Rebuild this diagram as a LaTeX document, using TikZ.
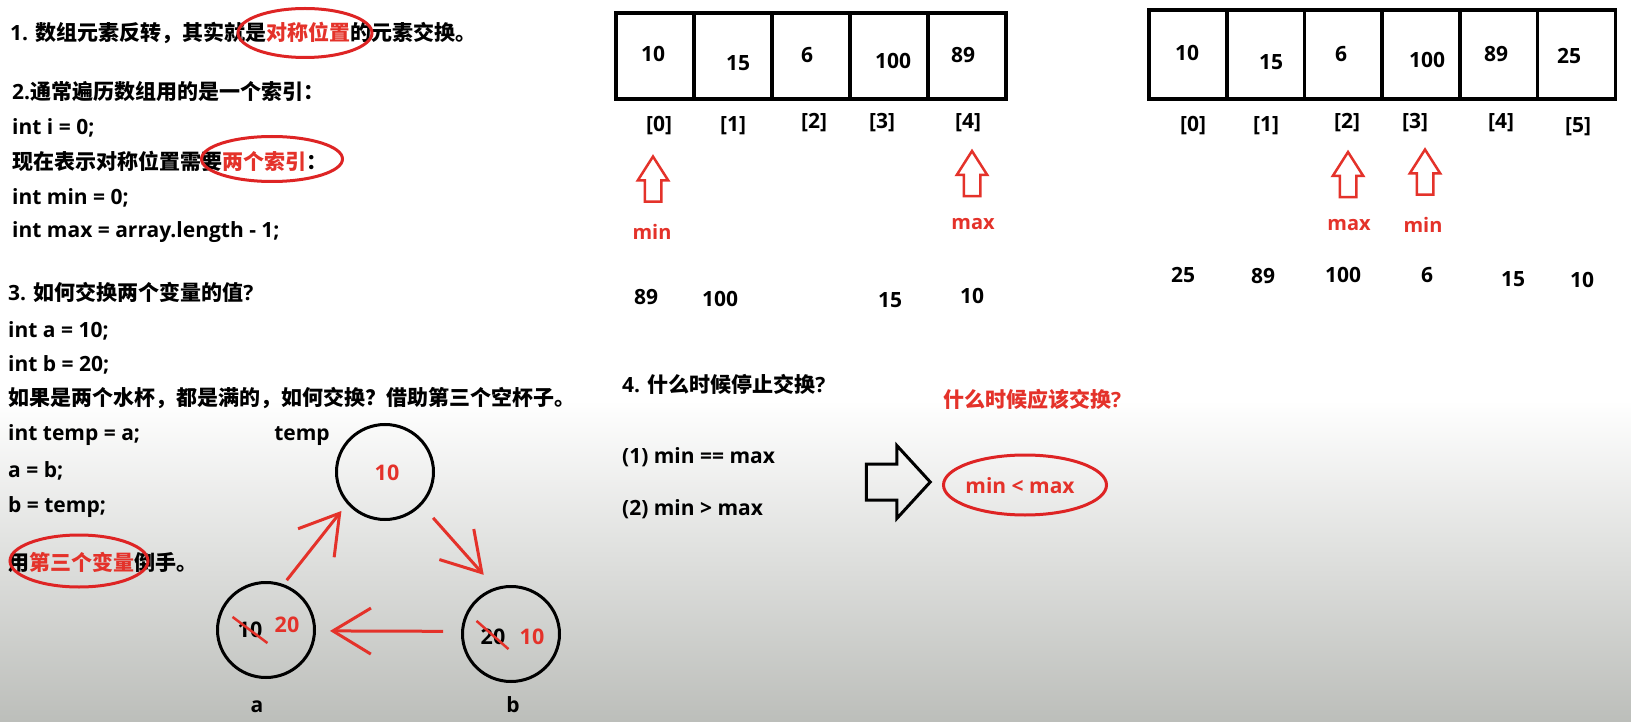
\documentclass[tikz,border=0pt]{standalone}
\usepackage{fontspec}
\setmainfont{Open Sans}
\newfontfamily\cjkfont{Noto Sans CJK SC}
\usepackage{xcolor}
\usepackage{tikz}
\usetikzlibrary{arrows.meta,positioning,shapes.geometric,shapes.arrows}
\definecolor{swapred}{RGB}{228,50,42}
\definecolor{ringred}{RGB}{222,36,36}
\definecolor{fadegrey}{RGB}{188,190,186}
\newcommand{\zh}[1]{{\cjkfont #1}}
\newcommand{\redtxt}[1]{\textcolor{swapred}{#1}}
\tikzset{
  codeline/.style={anchor=west, inner sep=0pt,
    font=\fontsize{21}{24}\selectfont\bfseries,
    text height=17pt, text depth=2pt},
  num/.style={inner sep=0pt, font=\fontsize{21}{24}\selectfont\bfseries},
  cupnum/.style={inner sep=0pt, font=\fontsize{21.5}{24}\selectfont\bfseries},
  cell/.style={draw, line width=3.5pt, outer sep=0pt, inner sep=0pt,
    minimum width=#1, minimum height=86pt},
  cell/.default=78pt,
  ptr/.style={single arrow, draw=#1, line width=2.5pt,
    shape border rotate=90, inner sep=7pt,
    minimum width=28pt, minimum height=45pt,
    single arrow head extend=7pt, single arrow tip angle=65},
  ptr/.default=swapred,
  ptrlabel/.style={inner sep=0pt, text=swapred,
    font=\fontsize{20}{24}\selectfont\bfseries},
  ring/.style={ellipse, draw=ringred, line width=3pt, inner sep=0pt},
  cup/.style={ellipse, draw, line width=3pt, inner sep=0pt,
    minimum width=97pt, minimum height=95pt},
  pour/.style={draw=swapred, line width=3pt,
    -{Straight Barb[length=38pt, width=46pt]}},
  strike/.style={draw=swapred, line width=2.5pt},
}

\begin{document}
\begin{tikzpicture}[x=1pt, y=-1pt]
  \useasboundingbox (0,0) rectangle (1631,722);
  \fill[white] (0,0) rectangle (1631,400);
  \shade[top color=white, bottom color=fadegrey] (0,400) rectangle (1631,722);

  % notes on the left
  \node[codeline] (n1) at (10,33) {1. \zh{数组元素反转，其实就是\redtxt{对称位置}的元素交换。}};
  \node[codeline] (n2) at (12,92) {2.\zh{通常遍历数组用的是一个索引：}};
  \node[codeline] (n3) at (12,127) {int i = 0;};
  \node[codeline] (n4) at (12,162) {\zh{现在表示对称位置需要\redtxt{两个索引}：}};
  \node[codeline] (n5) at (12,197) {int min = 0;};
  \node[codeline] (n6) at (12,230) {int max = array.length - 1;};
  \node[codeline] (n7) at (8,293) {3. \zh{如何交换两个变量的值}?};
  \node[codeline] (n8) at (8,330) {int a = 10;};
  \node[codeline] (n9) at (8,364) {int b = 20;};
  \node[codeline] (n10) at (8,398) {\zh{如果是两个水杯，都是满的，如何交换？借助第三个空杯子。}};
  \node[codeline] (n11) at (8,433) {int temp = a;};
  \node[codeline] (n12) at (8,470) {a = b;};
  \node[codeline] (n13) at (8,505) {b = temp;};
  \node[codeline] (n14) at (8,563) {\zh{用\redtxt{第三个变量}倒手。}};

  \node[ring, minimum width=134pt, minimum height=49pt] (r1) at (305,33) {};
  \node[ring, minimum width=141pt, minimum height=45pt] (r2) at (272,159) {};
  \node[ring, minimum width=138pt, minimum height=52pt] (r3) at (79,561) {};

  % three cups
  \node[codeline, anchor=center] (tmplbl) at (302,433) {temp};
  \node[cup] (tmp) at (385,472) {};
  \node[cup] (a) at (266,630) {};
  \node[cup] (b) at (511,634) {};
  \node[cupnum, text=swapred] (tmpv) at (387,473) {10};
  \node[cupnum] (aold) at (250,630) {10};
  \node[cupnum, text=swapred] (anew) at (287,625) {20};
  \node[cupnum] (bprev) at (493,637) {20};
  \node[cupnum, text=swapred] (bnew) at (532,637) {10};
  \draw[strike] ([shift={(-5,-5)}]aold.north west) -- ([shift={(5,5)}]aold.south east);
  \draw[strike] ([shift={(-4,-8)}]bprev.north west) -- ([shift={(3,4)}]bprev.south east);
  \node[codeline, anchor=center] (alab) at (257,705) {a};
  \node[codeline, anchor=center] (blab) at (513,705) {b};

  \draw[pour, shorten <=5pt, shorten >=9pt] (a.69) -- (tmp.220);
  \draw[pour, shorten <=17pt, shorten >=17pt] (tmp.-42) -- (b.109);
  \draw[pour, shorten <=18pt, shorten >=14pt] (b.177) -- (a.-1);

  % five element array
  \node[cell] (l0) at (655,56) {};
  \node[cell, right=0pt of l0] (l1) {};
  \node[cell, right=0pt of l1] (l2) {};
  \node[cell, right=0pt of l2] (l3) {};
  \node[cell, right=0pt of l3] (l4) {};
  \node[num] (lv0) at (653,54) {10};
  \node[num] (lv1) at (738,63) {15};
  \node[num] (lv2) at (807,55) {6};
  \node[num] (lv3) at (893,61) {100};
  \node[num] (lv4) at (963,55) {89};
  \node[num] (li0) at (659,126) {[0]};
  \node[num] (li1) at (733,126) {[1]};
  \node[num] (li2) at (814,123) {[2]};
  \node[num] (li3) at (882,123) {[3]};
  \node[num] (li4) at (968,123) {[4]};
  \node[ptr] (lmin) at (653,185.5) {};
  \node[ptr] (lmax) at (972,180) {};
  \node[ptrlabel] (lminlbl) at (652,232) {min};
  \node[ptrlabel] (lmaxlbl) at (973,224) {max};
  \node[num] (lr0) at (646,297) {89};
  \node[num] (lr1) at (720,299) {100};
  \node[num] (lr3) at (890,300) {15};
  \node[num] (lr4) at (972,296) {10};

  % six element array
  \node[cell=77.7pt, minimum height=89pt] (s0) at (1187.9,54.5) {};
  \node[cell=77.7pt, minimum height=89pt, right=0pt of s0] (s1) {};
  \node[cell=77.7pt, minimum height=89pt, right=0pt of s1] (s2) {};
  \node[cell=77.7pt, minimum height=89pt, right=0pt of s2] (s3) {};
  \node[cell=77.7pt, minimum height=89pt, right=0pt of s3] (s4) {};
  \node[cell=77.7pt, minimum height=89pt, right=0pt of s4] (s5) {};
  \node[num] (sv0) at (1187,53) {10};
  \node[num] (sv1) at (1271,62) {15};
  \node[num] (sv2) at (1341,54) {6};
  \node[num] (sv3) at (1427,60) {100};
  \node[num] (sv4) at (1496,54) {89};
  \node[num] (sv5) at (1569,56) {25};
  \node[num] (si0) at (1193,126) {[0]};
  \node[num] (si1) at (1266,126) {[1]};
  \node[num] (si2) at (1347,123) {[2]};
  \node[num] (si3) at (1415,123) {[3]};
  \node[num] (si4) at (1501,123) {[4]};
  \node[num] (si5) at (1578,127) {[5]};
  \node[ptr] (smax) at (1348,181) {};
  \node[ptr] (smin) at (1425,178.5) {};
  \node[ptrlabel] (smaxlbl) at (1349,225) {max};
  \node[ptrlabel] (sminlbl) at (1423,225) {min};
  \node[num] (sr0) at (1183,275) {25};
  \node[num] (sr1) at (1263,276) {89};
  \node[num] (sr2) at (1343,275) {100};
  \node[num] (sr3) at (1427,275) {6};
  \node[num] (sr4) at (1513,279) {15};
  \node[num] (sr5) at (1582,280) {10};

  % when to stop
  \node[codeline] (q4) at (622,385) {4. \zh{什么时候停止交换}?};
  \node[codeline, text=swapred] (q5) at (943,400) {\zh{什么时候应该交换}?};
  \node[codeline] (c1) at (622,456) {(1) min == max};
  \node[codeline] (c2) at (622,508) {(2) min > max};
  \node[single arrow, draw, line width=3pt, inner xsep=0pt, inner ysep=16.5pt,
    minimum width=70pt, minimum height=64pt,
    single arrow head extend=18.5pt, single arrow tip angle=95] (then) at (890,482) {};
  \node[ring, minimum width=163pt, minimum height=60pt] (r4) at (1025,485) {};
  \node[codeline, anchor=center, text=swapred] (cond) at (1020,486) {min < max};
\end{tikzpicture}
\end{document}
